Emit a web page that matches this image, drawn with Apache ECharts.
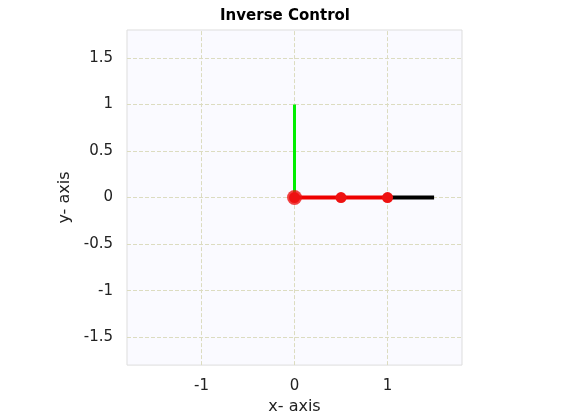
<!DOCTYPE html><html><head><meta charset="utf-8"><script src="https://cdn.jsdelivr.net/npm/echarts@6/dist/echarts.min.js"></script>
<style>html,body{margin:0;background:#fff}#c{width:570px;height:420px}</style></head><body><div id="c"></div><script>
const xTicks=[-1,0,1];
const yTicks=[-1.5,-1,-0.5,0,0.5,1,1.5];
const greenX=[0,0], greenY=[0,1];
const blackX=[1,1.5], blackY=[0,0];
const redX=[0,0.5,1], redY=[0,0,0];
const baseX=[0], baseY=[0];
const zip=(a,b)=>a.map((v,i)=>[v,b[i]]);
const font='DejaVu Sans';
const chart=echarts.init(document.getElementById('c'));
chart.setOption({
 animation:false,
 title:{text:'Inverse Control',left:'center',top:4,textStyle:{fontFamily:font,fontSize:15,fontWeight:'bold',color:'#000'}},
 grid:{left:127,top:30,width:335,height:336,backgroundColor:'#fafaff',show:true,borderColor:'#ddd',borderWidth:1},
 xAxis:{type:'value',min:-1.8,max:1.8,interval:0.2,name:'x- axis',nameLocation:'middle',nameGap:32,nameTextStyle:{fontFamily:font,fontSize:16,color:'#222'},
  axisLine:{show:false},axisTick:{show:false},
  axisLabel:{fontFamily:font,fontSize:15,color:'#222',margin:14,showMinLabel:false,showMaxLabel:false,formatter:v=>xTicks.some(t=>Math.abs(t-v)<1e-6)?String(Math.round(v)):''},
  splitLine:{show:false}},
 yAxis:{type:'value',min:-1.8,max:1.8,interval:0.1,name:'y- axis',nameLocation:'middle',nameGap:48,nameTextStyle:{fontFamily:font,fontSize:16,color:'#222'},
  axisLine:{show:false},axisTick:{show:false},
  axisLabel:{fontFamily:font,fontSize:15,color:'#222',margin:14,showMinLabel:false,showMaxLabel:false,formatter:v=>{const t=yTicks.find(t=>Math.abs(t-v)<1e-6);return t===undefined?'':String(t);}},
  splitLine:{show:false}},
 series:[
  {type:'line',z:0,data:[],markLine:{silent:true,z:0,symbol:'none',label:{show:false},lineStyle:{color:'#dcdcc0',type:'dashed',width:1},
   data:[...xTicks.map(t=>({xAxis:t})),...yTicks.map(t=>({yAxis:t}))]}},
  {type:'line',z:5,data:zip(greenX,greenY),symbol:'none',lineStyle:{color:'#00ee00',width:3}},
  {type:'line',z:5,data:zip(blackX,blackY),symbol:'none',lineStyle:{color:'#000',width:4}},
  {type:'line',z:6,data:zip(redX,redY),symbol:'circle',symbolSize:11,itemStyle:{color:'#ee1111'},lineStyle:{color:'#ee0000',width:4}},
  {type:'scatter',z:7,data:zip(baseX,baseY),symbolSize:15,itemStyle:{color:'#ee1111'}}
 ]
});
</script></body></html>
